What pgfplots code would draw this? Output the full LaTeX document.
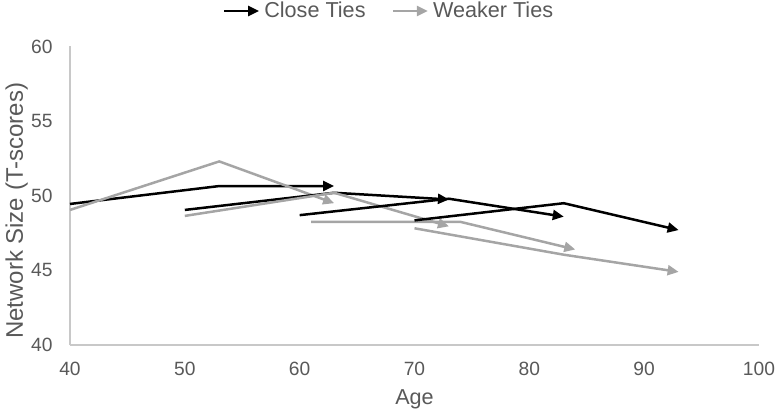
\documentclass[border=0pt]{standalone}
\usepackage{pgfplots}
\pgfplotsset{compat=1.18}
\usepackage{fontspec}
\setmainfont{Liberation Sans}
\usetikzlibrary{arrows.meta}
\definecolor{closec}{HTML}{000000}
\definecolor{weakc}{HTML}{A5A5A5}
\definecolor{txt}{HTML}{595959}
\definecolor{axline}{HTML}{C8C8C8}

\begin{document}
\begin{tikzpicture}
\path[use as bounding box] (-35pt,-36pt) rectangle (355pt,172.5pt);
\begin{axis}[
    scale only axis,
    width=344.5pt,
    height=149.25pt,
    at={(0pt,0pt)}, anchor=south west,
    xmin=40, xmax=100,
    ymin=40, ymax=60,
    xtick={40,50,...,100},
    ytick={40,45,...,60},
    axis x line*=bottom,
    axis y line*=left,
    axis line style={axline, line width=0.6pt, -},
    major tick length=0pt,
    tick label style={font=\fontsize{9.6}{11}\selectfont, text=txt},
    /pgf/number format/assume math mode=true,
    xticklabel style={yshift=-4.8pt},
    yticklabel style={xshift=-5.2pt},
    xlabel={Age},
    ylabel={Network Size (T-scores)},
    every axis x label/.style={at={(axis description cs:0.5,0)}, anchor=base, yshift=-29.5pt, font=\fontsize{10.8}{12}\selectfont, text=txt},
    every axis y label/.style={at={(axis description cs:-0.0775,0.449)}, rotate=90, anchor=center, font=\fontsize{12}{14}\selectfont, text=txt},
    legend columns=2,
    legend style={at={(axis description cs:0.4644,1.119)}, anchor=center, draw=none, fill=none,
        font=\fontsize{10.8}{12}\selectfont, text=txt, /tikz/every even column/.append style={column sep=11pt},
        inner sep=0pt},
    legend image code/.code={\draw[#1] (0pt,0pt) -- (17.5pt,0pt);},
    clip=false,
]
\pgfplotsset{
    closeline/.style={closec, line width=1.25pt, -{Triangle[length=5.5pt,width=5pt]}},
    weakline/.style={weakc, line width=1.25pt, -{Triangle[length=5.5pt,width=5pt]}},
}
% close ties, one arrow per cohort
\addplot[closeline] coordinates {(40,49.45) (53,50.65) (63,50.65)};
\addlegendentry{Close Ties}
\addplot[weakline] coordinates {(40,49.05) (53,52.3) (63,49.5)};
\addlegendentry{Weaker Ties}
\addplot[closeline, forget plot] coordinates {(50,49.05) (63,50.2) (73,49.75)};
\addplot[weakline, forget plot] coordinates {(50,48.65) (63,50.2) (73,47.95)};
\addplot[closeline, forget plot] coordinates {(60,48.7) (73,49.8) (83,48.6)};
\addplot[weakline, forget plot] coordinates {(61,48.25) (74,48.25) (84,46.4)};
\addplot[closeline, forget plot] coordinates {(70,48.35) (83,49.5) (93,47.7)};
\addplot[weakline, forget plot] coordinates {(70,47.82) (83,46.05) (93,44.9)};
\end{axis}
\end{tikzpicture}
\end{document}
